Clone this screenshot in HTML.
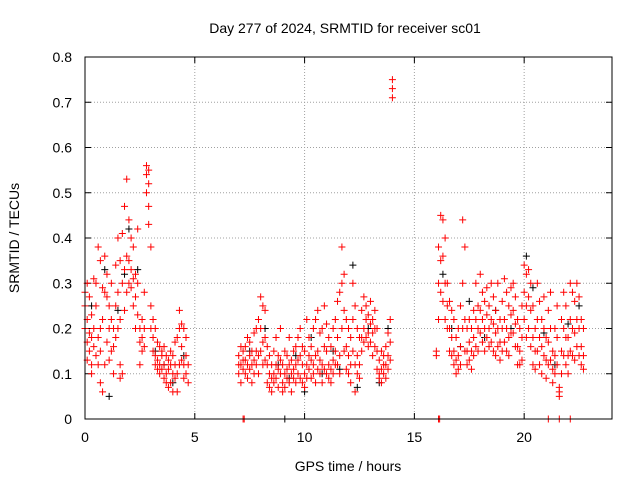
<!DOCTYPE html>
<html><head><meta charset="utf-8"><style>
body{margin:0;background:#fff}
svg{display:block;font-family:"Liberation Sans",Arial,sans-serif}
</style></head><body>
<svg id="chart" width="640" height="480">
<text x="345" y="33" font-size="14" text-anchor="middle">Day 277 of 2024, SRMTID for receiver sc01</text>
<text x="348" y="471" font-size="14" text-anchor="middle">GPS time / hours</text>
<text transform="translate(19,238) rotate(-90)" font-size="14" text-anchor="middle">SRMTID / TECUs</text>
<g id="grid"></g><g id="ticks"></g><g id="blk"></g><g id="red"></g>
<rect x="85" y="57" width="527" height="362" fill="none" stroke="#000" stroke-width="1"/>
</svg>
<script>
const xTicks=[0,5,10,15,20];
const yTicks=[0,0.1,0.2,0.3,0.4,0.5,0.6,0.7,0.8];
const yTickLabels=["0","0.1","0.2","0.3","0.4","0.5","0.6","0.7","0.8"];
const redTimes=[0.0,0.1,0.2,0.3,0.4,0.5,0.6,0.7,0.8,0.9,1.0,1.1,1.2,1.3,1.4,1.5,1.6,1.7,1.8,1.9,2.0,2.1,2.2,2.3,2.4,2.5,2.6,2.7,2.8,2.9,3.0,3.1,3.2,3.3,3.4,3.5,3.6,3.7,3.8,3.9,4.0,4.1,4.2,4.3,4.4,4.5,4.6,4.7,
7.0,7.1,7.2,7.3,7.4,7.5,7.6,7.7,7.8,7.9,8.0,8.1,8.2,8.3,8.4,8.5,8.6,8.7,8.8,8.9,9.0,9.1,9.2,9.3,9.4,9.5,9.6,9.7,9.8,9.9,10.0,10.1,10.2,10.3,10.4,10.5,10.6,10.7,10.8,10.9,11.0,11.1,11.2,11.3,11.4,11.5,11.6,11.7,11.8,11.9,12.0,12.1,12.2,12.3,12.4,12.5,12.6,12.7,12.8,12.9,13.0,13.1,13.2,13.3,13.4,13.5,13.6,13.7,13.8,13.9,14.0,
16.0,16.1,16.2,16.3,16.4,16.5,16.6,16.7,16.8,16.9,17.0,17.1,17.2,17.3,17.4,17.5,17.6,17.7,17.8,17.9,18.0,18.1,18.2,18.3,18.4,18.5,18.6,18.7,18.8,18.9,19.0,19.1,19.2,19.3,19.4,19.5,19.6,19.7,19.8,19.9,20.0,20.1,20.2,20.3,20.4,20.5,20.6,20.7,20.8,20.9,21.0,21.1,21.2,21.3,21.4,21.5,21.6,21.7,21.8,21.9,22.0,22.1,22.2,22.3,22.4,22.5,22.6,22.7,
7.2,7.25,16.1,16.15,21.1,21.6,22.1];
const redValues=[[.28,.2,.25],[.3,.17,.22,.13],[.27,.15,.19],[.23,.12,.18,.1],[.31,.2,.16],[.3,.25,.14],[.38,.18,.12],[.35,.08,.2,.15],[.29,.06,.22],[.36,.28,.12],[.27,.32,.17],[.25,.2,.13],[.22,.3,.15],[.2,.16,.1],[.34,.25,.18],[.4,.28,.2],[.35,.22,.12,.09],[.41,.3,.1],[.47,.33,.24],[.53,.36,.28],[.44,.35,.3],[.33,.29,.4],[.38,.31,.25],[.32,.27,.2],[.42,.23,.3],[.2,.17,.12],[.22,.15,.18],[.28,.2,.16],[.56,.54,.5],[.55,.52,.47,.43],[.38,.25,.2],[.22,.18,.15],[.2,.14,.12],[.17,.13,.11],[.16,.12,.1],[.15,.11,.14],[.12,.09,.16],[.14,.1,.08],[.13,.11,.07],[.15,.08,.12],[.1,.06,.14],[.12,.09,.17],[.18,.1,.06],[.24,.2,.12],[.21,.16,.13],[.2,.12,.09],[.14,.1,.18],[.12,.08],
[.14,.12,.1],[.16,.12,.08],[.15,.11,.13],[.13,.1,.16],[.18,.12,.09],[.17,.14,.11],[.15,.12,.08],[.19,.13,.1],[.2,.15,.12],[.22,.14,.1],[.27,.2,.15],[.25,.17,.12],[.24,.18,.13],[.16,.12,.08],[.14,.1,.07],[.12,.09,.06],[.15,.1,.08],[.18,.12,.09],[.14,.11,.07],[.2,.13,.1],[.12,.08,.06],[.1,.07,.15],[.14,.09,.11],[.18,.12,.08],[.13,.1,.06],[.15,.11,.09],[.16,.12,.08],[.18,.1,.13],[.2,.14,.09],[.12,.08,.16],[.15,.1,.07],[.22,.12,.09],[.18,.11,.14],[.16,.09,.13],[.2,.12,.1],[.22,.14,.08],[.24,.15,.11],[.19,.13,.1],[.2,.12,.08],[.25,.16,.11],[.21,.15,.1],[.18,.12,.09],[.16,.11,.08],[.2,.13,.1],[.22,.15,.12],[.26,.18,.12],[.28,.14,.1],[.38,.3,.2],[.32,.24,.15],[.22,.16,.11],[.2,.14,.1],[.18,.12,.08],[.3,.22,.15],[.25,.12,.06],[.2,.14,.1],[.18,.12,.09],[.24,.18,.15],[.27,.2,.17],[.25,.22,.18],[.23,.19,.16],[.26,.21,.17],[.22,.19,.14],[.24,.2,.16],[.2,.15,.11],[.13,.1,.09],[.15,.11,.08],[.12,.1,.14],[.16,.12,.09],[.19,.14,.11],[.22,.17,.13],[.75,.73,.71],
[.14,.15],[.38,.3,.22],[.45,.35,.28],[.44,.36,.26],[.4,.3,.22],[.3,.25,.2],[.26,.2,.15],[.24,.18,.14],[.22,.15,.12],[.18,.13,.1],[.2,.14,.11],[.25,.16,.12],[.44,.3,.2],[.38,.22,.15],[.2,.15,.12],[.22,.17,.13],[.2,.15,.11],[.24,.18,.14],[.3,.22,.16],[.25,.2,.15],[.32,.24,.19],[.28,.22,.17],[.26,.2,.15],[.29,.23,.18],[.25,.2,.16],[.3,.22,.17],[.27,.21,.15],[.24,.19,.14],[.3,.2,.16],[.22,.17,.13],[.26,.2,.15],[.31,.22,.17],[.28,.2,.15],[.25,.18,.14],[.29,.23,.19],[.3,.24,.19],[.27,.21,.16],[.22,.16,.12],[.2,.15,.12],[.25,.18,.13],[.34,.28,.22],[.32,.25,.18],[.33,.27,.2],[.3,.24,.16],[.25,.18,.12],[.2,.15,.11],[.3,.22,.15],[.26,.18,.12],[.22,.16,.1],[.27,.2,.14],[.18,.13,.09],[.24,.17,.12],[.28,.2,.13],[.15,.11,.08],[.2,.14,.1],[.25,.18,.12],[.07,.06,.05],[.22,.15,.1],[.28,.2,.14],[.25,.18,.12],[.18,.14,.1],[.3,.22,.15],[.28,.2,.14],[.26,.19,.13],[.3,.22,.16],[.27,.2,.14],[.22,.16,.12],[.2,.14,.11],
[0],[0],[0],[0],[0],[0],[0]];
const blackTimes=[0.3,0.9,1.1,1.5,1.8,2.0,2.4,3.2,3.6,4.0,4.5,7.5,8.2,8.8,9.1,9.3,9.6,10.0,10.3,10.8,11.3,11.6,12.2,12.4,12.9,13.4,13.8,16.3,16.7,17.1,17.5,18.2,18.7,19.4,20.1,20.4,20.9,21.4,22.0,22.5];
const blackValues=[.25,.33,.05,.24,.32,.42,.33,.15,.12,.08,.14,.15,.2,.12,0,.09,.14,.06,.18,.1,.15,.11,.34,.07,.2,.08,.2,.32,.2,.16,.26,.18,.24,.2,.36,.29,.19,.12,.21,.25];
const X0=85,X1=612,Y0=419,Y1=57,XMAX=24,YMAX=0.8;
const xs=t=>X0+(X1-X0)*t/XMAX, ys=v=>Y0-(Y0-Y1)*v/YMAX;
const NS="http://www.w3.org/2000/svg";
function mk(tag,attrs,parent){const e=document.createElementNS(NS,tag);for(const k in attrs)e.setAttribute(k,attrs[k]);parent.appendChild(e);return e;}
const grid=document.getElementById('grid'),ticks=document.getElementById('ticks');
xTicks.forEach(t=>{const x=xs(t);
 if(t>0){const g=mk('line',{x1:x,x2:x,y1:Y1,y2:Y0,stroke:'#a0a0a0','stroke-dasharray':'1,2'},grid);
 
 }
 mk('line',{x1:x,x2:x,y1:Y0,y2:Y0-6,stroke:'#000'},ticks);mk('line',{x1:x,x2:x,y1:Y1,y2:Y1+6,stroke:'#000'},ticks);
 const l=mk('text',{x:x,y:442,'font-size':14,'text-anchor':'middle'},ticks);l.textContent=t;
 
 });
yTicks.forEach((v,i)=>{const y=ys(v);
 if(v>0&&v<YMAX){const g=mk('line',{x1:X0,x2:X1,y1:y,y2:y,stroke:'#a0a0a0','stroke-dasharray':'1,2'},grid);
 
 }
 mk('line',{x1:X0,x2:X0+6,y1:y,y2:y,stroke:'#000'},ticks);mk('line',{x1:X1,x2:X1-6,y1:y,y2:y,stroke:'#000'},ticks);
 const l=mk('text',{x:72,y:y+5,'font-size':14,'text-anchor':'end'},ticks);l.textContent=yTickLabels[i];
 
 });
function plus(x,y,c,parent,name){const p=mk('path',{d:`M${x-3.5},${y}h7M${x},${y-3.5}v7`,stroke:c,'stroke-width':1,fill:'none'},parent);
 
 }
const blk=document.getElementById('blk'),red=document.getElementById('red');
blackTimes.forEach((t,i)=>plus(xs(t),ys(blackValues[i]),'#000',blk,'black-point'));
redTimes.forEach((t,i)=>redValues[i].forEach(v=>plus(xs(t),ys(v),'#f00',red,'red-point')));
</script>
</body></html>
